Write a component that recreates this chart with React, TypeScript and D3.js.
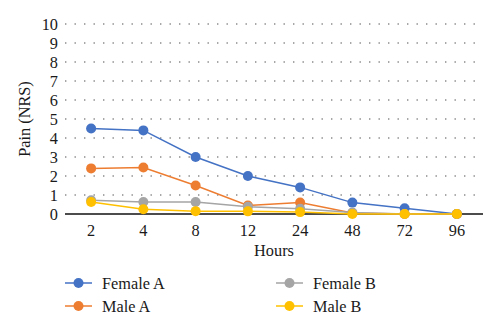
import React from "react";
import * as d3 from "d3";

const hours = ["2", "4", "8", "12", "24", "48", "72", "96"];
const femaleA = [4.5, 4.4, 3.0, 2.0, 1.4, 0.6, 0.3, 0];
const maleA = [2.4, 2.45, 1.5, 0.45, 0.6, 0.05, 0, 0];
const femaleB = [0.72, 0.63, 0.63, 0.38, 0.28, 0.08, 0, 0];
const maleB = [0.63, 0.25, 0.15, 0.14, 0.1, 0, 0, 0];
const yTicks = [0, 1, 2, 3, 4, 5, 6, 7, 8, 9, 10];
const seriesNames = ["Female A", "Male A", "Female B", "Male B"];
const seriesColors = ["#4472C4", "#ED7D31", "#A5A5A5", "#FFC000"];
const seriesValues = [femaleA, maleA, femaleB, maleB];

const W = 500;
const H = 328;
const left = 65;
const right = 483;
const top = 24;
const bottom = 214;
const FONT = "'Liberation Serif', 'DejaVu Serif', serif";
const FS = 16.3;

export default function App() {
  const x = d3.scaleBand<string>().domain(hours).range([left, right]);
  const y = d3.scaleLinear().domain([0, 10]).range([bottom, top]);
  const cx = (h: string) => (x(h) as number) + x.bandwidth() / 2;
  const line = d3
    .line<number>()
    .x((_, i) => cx(hours[i]))
    .y((d) => y(d));

  const legendPos = [
    { lx: 65, ly: 283 },
    { lx: 65, ly: 306 },
    { lx: 276, ly: 283 },
    { lx: 276, ly: 306 },
  ];

  return (
    <svg
      width={W}
      height={H}
      style={{ position: "absolute", left: 0, top: 0, background: "#fff" }}
      fontFamily={FONT}
    >
      <rect width={W} height={H} fill="#fff" />
      {yTicks.map((t) =>
        t === 0 ? null : (
          <line
            key={"g" + t}
            x1={left}
            x2={right - 4}
            y1={y(t)}
            y2={y(t)}
            stroke="#8a8a8a"
            strokeWidth={1.4}
            strokeDasharray="1.4 8.1"
          />
        )
      )}
      {yTicks.map((t) => (
        <text
          key={"t" + t}
          x={58}
          y={y(t)}
          dy="0.34em"
          textAnchor="end"
          fontSize={FS}
          fill="#1a1a1a"
        >
          {t}
        </text>
      ))}
      <line x1={left} x2={right} y1={bottom} y2={bottom} stroke="#111" strokeWidth={1.6} />
      {hours.map((h) => (
        <text key={"x" + h} x={cx(h)} y={236} textAnchor="middle" fontSize={FS} fill="#1a1a1a">
          {h}
        </text>
      ))}
      <text x={274} y={256} textAnchor="middle" fontSize={FS} fill="#1a1a1a">
        Hours
      </text>
      <text
        transform={`translate(30,119) rotate(-90)`}
        textAnchor="middle"
        fontSize={FS}
        fill="#1a1a1a"
      >
        Pain (NRS)
      </text>
      {seriesValues.map((vals, si) => (
        <g key={"s" + si}>
          <path d={line(vals) || ""} fill="none" stroke={seriesColors[si]} strokeWidth={1.5} />
          {vals.map((v, i) => (
            <circle key={i} cx={cx(hours[i])} cy={y(v)} r={5} fill={seriesColors[si]} />
          ))}
        </g>
      ))}
      {seriesNames.map((name, si) => {
        const p = legendPos[si];
        return (
          <g key={"l" + si}>
            <line x1={p.lx} x2={p.lx + 27} y1={p.ly} y2={p.ly} stroke={seriesColors[si]} strokeWidth={1.5} />
            <circle cx={p.lx + 13.5} cy={p.ly} r={5} fill={seriesColors[si]} />
            <text x={p.lx + 37} y={p.ly} dy="0.34em" fontSize={FS} fill="#1a1a1a">
              {name}
            </text>
          </g>
        );
      })}
    </svg>
  );
}
